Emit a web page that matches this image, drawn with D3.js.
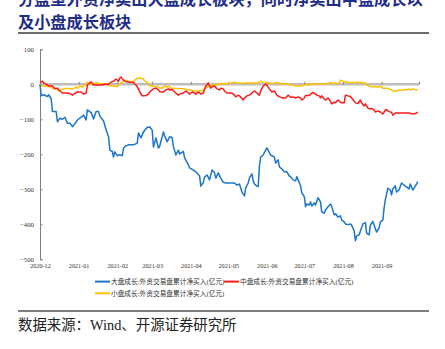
<!DOCTYPE html>
<html><head><meta charset="utf-8">
<script src="https://cdn.jsdelivr.net/npm/d3@7"></script>
<style>body{margin:0;background:#fff}svg{display:block}</style>
</head><body><svg id="c" width="445" height="349"></svg>
<script>
// ---------- DATA ----------
const startDate = "2020-12-01";          // day offsets below are counted from this date
const endDate = "2021-10-01";
const yTicks = [100, 0, -100, -200, -300, -400, -500];
const monthLabels = ["2020-12","2021-01","2021-02","2021-03","2021-04","2021-05","2021-06","2021-07","2021-08","2021-09"];
const seriesNames = [
  "大盘成长:外资交易盘累计净买入(亿元)",
  "中盘成长:外资交易盘累计净买入(亿元)",
  "小盘成长:外资交易盘累计净买入(亿元)"
];
// [day offset, value (亿元)]
const largeGrowth = [[0,0],[1,-33],[3,-30],[6,-35],[7,-30],[9,-42],[10,-78],[11,-78],[13,-78],[14,-107],[16,-97],[18,-100],[20,-94],[22,-111],[24,-111],[26,-121],[28,-113],[30,-102],[33,-94],[35,-88],[37,-102],[38,-73],[41,-81],[43,-99],[45,-78],[47,-78],[48,-91],[51,-105],[53,-130],[55,-150],[56,-188],[58,-192],[59,-208],[60,-193],[62,-204],[64,-201],[66,-204],[67,-182],[69,-176],[71,-173],[75,-173],[78,-168],[79,-139],[81,-153],[83,-136],[86,-123],[88,-122],[90,-131],[91,-179],[93,-153],[95,-182],[96,-177],[99,-136],[100,-148],[102,-164],[104,-150],[106,-152],[107,-178],[109,-202],[111,-188],[112,-199],[115,-192],[116,-210],[119,-230],[120,-239],[123,-245],[125,-250],[128,-262],[129,-291],[131,-280],[132,-265],[134,-259],[136,-273],[138,-245],[140,-253],[141,-268],[143,-253],[145,-268],[147,-280],[149,-282],[152,-282],[156,-282],[158,-288],[160,-285],[162,-308],[164,-319],[165,-296],[167,-282],[168,-268],[170,-256],[171,-276],[172,-285],[174,-291],[175,-292],[176,-233],[177,-208],[179,-202],[181,-188],[182,-182],[183,-188],[185,-202],[188,-208],[189,-225],[191,-216],[192,-236],[194,-242],[196,-250],[198,-250],[200,-262],[201,-264],[203,-273],[205,-276],[206,-264],[209,-290],[210,-310],[212,-321],[213,-350],[214,-342],[216,-345],[217,-336],[218,-348],[220,-339],[221,-345],[223,-324],[225,-336],[226,-365],[228,-368],[229,-359],[231,-350],[233,-342],[234,-350],[236,-373],[237,-370],[239,-379],[241,-376],[242,-388],[244,-393],[245,-399],[247,-401],[249,-399],[250,-403],[252,-419],[253,-447],[254,-433],[256,-430],[257,-419],[259,-399],[261,-395],[262,-425],[264,-430],[265,-402],[267,-392],[269,-413],[270,-422],[272,-410],[273,-393],[275,-388],[276,-353],[277,-330],[279,-297],[281,-302],[282,-316],[283,-299],[285,-290],[286,-308],[288,-302],[290,-282],[291,-285],[293,-291],[294,-293],[296,-299],[297,-285],[298,-293],[299,-302],[301,-291],[302,-285],[303,-278]];
const midGrowth = [[0,5],[2,9],[3,4],[6,-2],[7,-5],[10,-5],[12,-13],[14,-11],[16,-19],[18,-25],[22,-25],[24,-26],[26,-31],[28,-26],[30,-22],[33,-22],[35,-28],[37,-25],[38,-2],[39,1],[41,7],[43,-2],[45,-2],[47,-2],[50,-2],[52,0],[55,0],[57,6],[59,9],[61,15],[63,9],[64,18],[65,21],[67,12],[68,9],[71,6],[73,6],[75,5],[77,-2],[79,-13],[80,-22],[82,-33],[83,-33],[85,-32],[87,-28],[88,-22],[90,-16],[91,-13],[93,-11],[95,-16],[96,-21],[99,-22],[101,-16],[103,-13],[104,-16],[106,-15],[108,-22],[111,-31],[112,-28],[115,-25],[117,-19],[119,-25],[120,-28],[122,-22],[124,-25],[125,-28],[127,-22],[129,-28],[131,-25],[133,-5],[135,4],[136,-5],[137,-11],[139,-5],[140,-5],[142,-13],[144,-16],[145,-11],[147,-13],[148,-19],[150,-25],[152,-25],[154,-25],[156,-31],[157,-36],[159,-31],[160,-33],[163,-45],[164,-39],[166,-33],[168,-31],[171,-22],[172,-19],[174,-25],[176,-31],[177,-19],[179,-5],[180,-2],[181,1],[183,-8],[184,-13],[186,-22],[188,-19],[190,-31],[192,-36],[195,-39],[197,-39],[199,-31],[201,-37],[203,-36],[205,-39],[207,-36],[209,-39],[210,-45],[212,-39],[213,-32],[216,-32],[217,-28],[219,-23],[221,-28],[222,-31],[224,-33],[225,-39],[226,-33],[228,-42],[229,-45],[231,-39],[233,-48],[234,-56],[236,-51],[237,-53],[239,-45],[241,-51],[242,-53],[244,-53],[245,-31],[247,-33],[249,-35],[250,-39],[252,-48],[253,-53],[255,-55],[257,-45],[258,-53],[260,-62],[261,-56],[263,-68],[265,-71],[266,-69],[268,-73],[269,-79],[271,-76],[273,-79],[275,-85],[277,-73],[278,-73],[280,-78],[282,-80],[283,-88],[285,-82],[287,-82],[290,-82],[293,-82],[296,-82],[298,-84],[300,-85],[302,-82],[303,-79]];
const smallGrowth = [[0,1],[2,-5],[4,-6],[6,-5],[9,-8],[10,-11],[12,-13],[14,-13],[15,-19],[17,-16],[19,-13],[22,-11],[24,-13],[26,-13],[29,-8],[30,-11],[32,-5],[34,-8],[36,-2],[38,6],[39,4],[41,1],[43,2],[46,4],[48,1],[51,2],[53,1],[55,-2],[57,-5],[59,-5],[62,-6],[63,-2],[65,4],[67,9],[69,12],[71,9],[74,6],[75,9],[77,15],[79,18],[81,18],[83,15],[84,9],[86,6],[87,-2],[89,-5],[91,-5],[92,-8],[94,-6],[95,-9],[98,-11],[100,-5],[102,-8],[103,-5],[105,-11],[107,-11],[110,-12],[112,-13],[115,-13],[119,-16],[121,-16],[124,-19],[127,-19],[129,-19],[131,-16],[132,-13],[134,-8],[136,-5],[139,-2],[141,-2],[144,1],[146,1],[148,2],[151,1],[153,4],[156,6],[158,4],[160,4],[163,2],[165,4],[168,4],[170,4],[172,4],[175,4],[177,9],[179,6],[180,4],[183,4],[184,4],[187,1],[188,4],[191,5],[193,1],[195,1],[197,2],[201,-1],[203,-3],[205,-5],[208,-5],[210,-5],[213,0],[215,-2],[217,0],[220,1],[222,1],[225,1],[227,1],[229,1],[232,4],[233,5],[235,2],[237,4],[238,1],[240,4],[241,12],[243,9],[245,6],[246,6],[248,6],[249,4],[251,6],[253,4],[254,6],[256,5],[257,6],[259,4],[261,4],[262,-2],[264,-5],[265,-6],[267,-8],[269,-6],[270,-8],[272,-8],[273,-5],[275,-11],[277,-11],[278,-11],[280,-13],[282,-16],[283,-19],[285,-20],[286,-19],[288,-16],[290,-18],[291,-16],[293,-15],[294,-16],[296,-13],[298,-16],[299,-13],[301,-15],[303,-16]];
const seriesColors = ["#1b75c8", "#ff1a1a", "#ffc000"];
const titleLines = ["分盘型外资净卖出大盘成长板块，同时净卖出中盘成长以", "及小盘成长板块"];
const sourceText = "数据来源：Wind、开源证券研究所";

// ---------- CHART ----------
const svg = d3.select("#c");
const parse = d3.timeParse("%Y-%m-%d");
const t0 = parse(startDate), t1 = parse(endDate);
const x = d3.scaleTime().domain([t0, t1]).range([40, 419]);
const y = d3.scaleLinear().domain([-500, 100]).range([259.3, 49.3]);
const serif = "'Liberation Serif','Noto Sans CJK SC',serif";

// title
svg.append("g").selectAll("text").data(titleLines).join("text")
  .attr("x", 18).attr("y", (d, i) => 4.5 + i * 23)
  .attr("font-family", "'Noto Sans CJK SC',sans-serif").attr("font-weight", 700)
  .attr("font-size", 16.2).attr("fill", "#1f2d87").text(d => d);
svg.append("line").attr("x1", 18).attr("x2", 429).attr("y1", 33).attr("y2", 33)
  .attr("stroke", "#3a3a3a").attr("stroke-width", 1.5);

// y axis
const yAxis = d3.axisLeft(y).tickValues(yTicks).tickSize(-2.5).tickPadding(6).tickFormat(d3.format("d"));
const gy = svg.append("g").attr("transform", "translate(40,0)").call(yAxis);
gy.select(".domain").attr("stroke", "#7f7f7f");
gy.selectAll(".tick line").attr("stroke", "#7f7f7f");
gy.selectAll("text").attr("font-family", serif).attr("font-size", 6.8).attr("fill", "#333");

// zero line with month ticks
svg.append("line").attr("x1", x(t0)).attr("x2", x(t1)).attr("y1", y(0)).attr("y2", y(0))
  .attr("stroke", "#bdbdbd").attr("stroke-width", 2.6);
const months = d3.timeMonth.range(t0, d3.timeDay.offset(t1, 1));
const gz = svg.append("g").attr("transform", `translate(0,${y(0)})`)
  .call(d3.axisTop(x).tickValues(months).tickSize(2.5).tickFormat(""));
gz.select(".domain").remove();
gz.selectAll(".tick line").attr("stroke", "#7f7f7f");

// x labels (low position)
const fmt = d3.timeFormat("%Y-%m");
const labelDates = monthLabels.map(m => parse(m + "-01"));
const gx = svg.append("g").attr("transform", "translate(0,262)")
  .call(d3.axisBottom(x).tickValues(labelDates).tickSize(0).tickPadding(2).tickFormat(fmt));
gx.select(".domain").remove();
gx.selectAll("text").attr("font-family", serif).attr("font-size", 6.2).attr("fill", "#333");

// lines
const line = d3.line().x(d => x(d3.timeDay.offset(t0, d[0]))).y(d => y(d[1]));
const allSeries = [smallGrowth, midGrowth, largeGrowth];
const colorOrder = [seriesColors[2], seriesColors[1], seriesColors[0]];
svg.append("g").selectAll("path").data(allSeries).join("path")
  .attr("d", line).attr("fill", "none")
  .attr("stroke", (d, i) => colorOrder[i]).attr("stroke-width", 1.5)
  .attr("stroke-linejoin", "round");

// legend
const legendPos = [[95, 281.6], [224, 281.6], [95, 293.3]];
const lg = svg.append("g").selectAll("g").data(seriesNames).join("g")
  .attr("transform", (d, i) => `translate(${legendPos[i][0]},${legendPos[i][1]})`);
lg.append("line").attr("x1", 0).attr("x2", 15).attr("stroke", (d, i) => seriesColors[i]).attr("stroke-width", 2);
lg.append("text").attr("x", 16).attr("y", 2.3).attr("font-family", serif).attr("font-size", 6.7)
  .attr("fill", "#333").text(d => d);

// source
svg.append("line").attr("x1", 18).attr("x2", 429).attr("y1", 311).attr("y2", 311)
  .attr("stroke", "#7f7f7f").attr("stroke-width", 2);
svg.append("text").attr("x", 18).attr("y", 330).attr("font-family", serif)
  .attr("font-size", 14.4).attr("fill", "#222").text(sourceText);
</script></body></html>
